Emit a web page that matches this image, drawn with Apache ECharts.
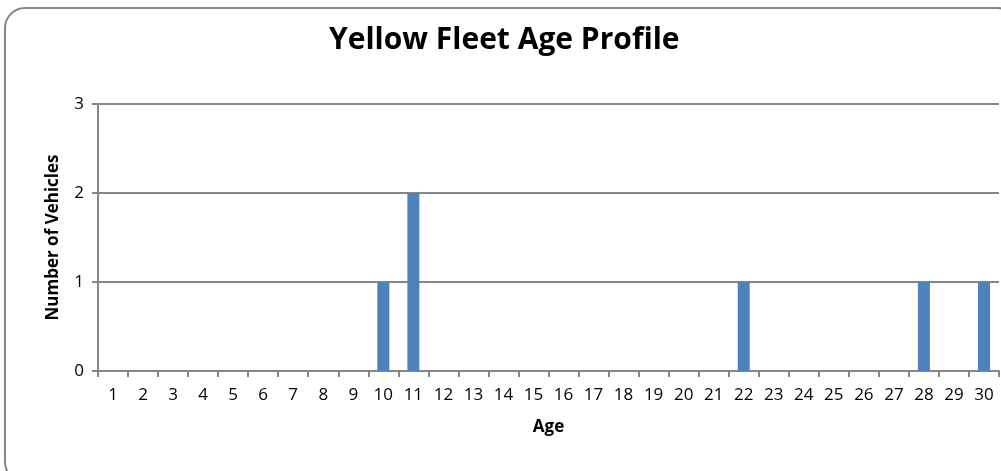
<!DOCTYPE html>
<html>
<head>
<meta charset="utf-8">
<script src="https://cdn.jsdelivr.net/npm/echarts@6/dist/echarts.min.js"></script>
<style>
html,body{margin:0;padding:0;background:#fff;}
#chart{width:1001px;height:471px;}
</style>
</head>
<body>
<div id="chart"></div>
<script>
var titleText = 'Yellow Fleet Age Profile';
var xAxisName = 'Age';
var yAxisName = 'Number of Vehicles';
var ages = ['1','2','3','4','5','6','7','8','9','10','11','12','13','14','15','16','17','18','19','20','21','22','23','24','25','26','27','28','29','30'];
var vehicles = [0,0,0,0,0,0,0,0,0,1,2,0,0,0,0,0,0,0,0,0,0,1,0,0,0,0,0,1,0,1];

var chart = echarts.init(document.getElementById('chart'), null, {renderer:'canvas'});
var gray = '#868686';
var font = '"Open Sans", "Liberation Sans", sans-serif';
chart.setOption({
  animation: false,
  backgroundColor: '#fff',
  graphic: [{
    type: 'rect',
    shape: {x: 5, y: 8, width: 1012, height: 474, r: 20},
    style: {fill: 'none', stroke: gray, lineWidth: 2},
    z: -1
  }],
  title: {
    text: titleText,
    left: 329,
    top: 25,
    padding: 0,
    textStyle: {fontFamily: font, fontSize: 30, fontWeight: 'bold', color: '#000'}
  },
  grid: {left: 98, right: 2, top: 104, bottom: 100, containLabel: false},
  xAxis: {
    type: 'category',
    data: ages,
    name: xAxisName,
    nameLocation: 'middle',
    nameGap: 48,
    nameTextStyle: {fontFamily: font, fontSize: 17, fontWeight: 'bold', color: '#000'},
    axisLine: {lineStyle: {color: gray, width: 2}},
    axisTick: {show: true, length: 6, lineStyle: {color: gray, width: 2}},
    axisLabel: {fontFamily: font, fontSize: 17, color: '#000', margin: 16},
    boundaryGap: true
  },
  yAxis: {
    type: 'value',
    min: 0, max: 3, interval: 1,
    name: yAxisName,
    nameLocation: 'middle',
    nameGap: 36,
    nameTextStyle: {fontFamily: font, fontSize: 17, fontWeight: 'bold', color: '#000'},
    axisLine: {show: true, lineStyle: {color: gray, width: 2}},
    axisTick: {show: true, length: 6, lineStyle: {color: gray, width: 2}},
    axisLabel: {fontFamily: font, fontSize: 17, color: '#000', margin: 14},
    splitLine: {show: true, lineStyle: {color: gray, width: 2}}
  },
  series: [{
    type: 'bar',
    data: vehicles,
    barWidth: 12,
    itemStyle: {color: '#4F81BD'}
  }]
});
</script>
</body>
</html>
